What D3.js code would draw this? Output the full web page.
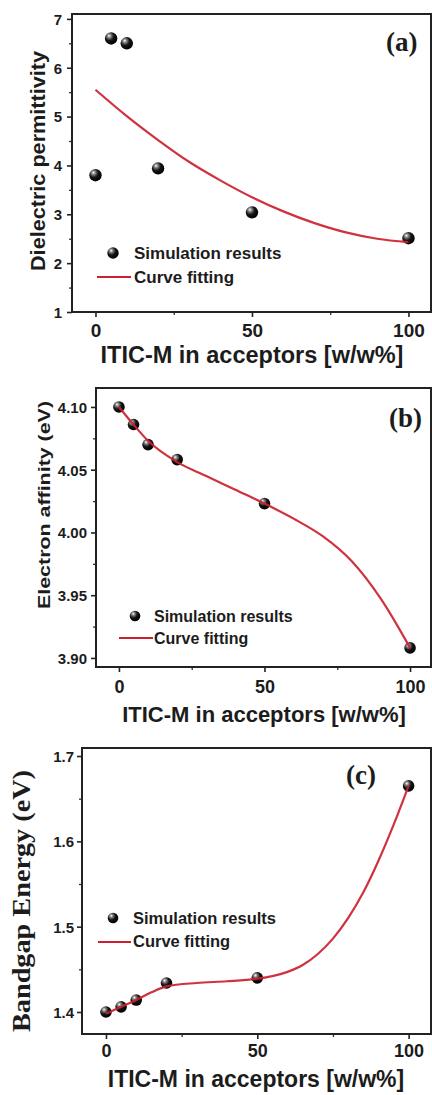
<!DOCTYPE html>
<html><head><meta charset="utf-8">
<script src="https://cdn.jsdelivr.net/npm/d3@7"></script>
<style>
html,body{margin:0;padding:0;background:#fff;}
svg{display:block;}
</style></head>
<body>
<svg id="c" width="432" height="1095"></svg>
<script>
// ---- data ----
const xVals = [0, 5, 10, 20, 50, 100];
const permittivity = [3.80, 6.60, 6.50, 3.94, 3.04, 2.51];
const affinity = [4.100, 4.086, 4.070, 4.058, 4.023, 3.908];
const bandgap = [1.400, 1.406, 1.414, 1.434, 1.440, 1.665];

const fitXa = [0, 10, 20, 30, 40, 50, 60, 70, 80, 90, 100];
const fitA  = [5.55, 5.01, 4.52, 4.07, 3.69, 3.35, 3.06, 2.82, 2.63, 2.50, 2.43];
const fitXb = [0, 5, 10, 20, 30, 40, 50, 60, 70, 80, 90, 100];
const fitB  = [4.100, 4.086, 4.073, 4.056, 4.045, 4.034, 4.023, 4.011, 3.997, 3.977, 3.947, 3.908];
const fitXc = [0, 5, 10, 15, 20, 30, 40, 50, 55, 60, 65, 70, 75, 80, 85, 90, 95, 100];
const fitC  = [1.398, 1.406, 1.414, 1.423, 1.430, 1.434, 1.436, 1.439, 1.442, 1.447, 1.455, 1.468, 1.486, 1.510, 1.540, 1.577, 1.619, 1.665];

const xTicks = [0, 50, 100];
const xMinor = [25, 75];
const yTicksA = [1, 2, 3, 4, 5, 6, 7];
const yMinorA = [1.5, 2.5, 3.5, 4.5, 5.5, 6.5];
const yTicksB = [3.90, 3.95, 4.00, 4.05, 4.10];
const yMinorB = [3.925, 3.975, 4.025, 4.075];
const yTicksC = [1.4, 1.5, 1.6, 1.7];
const yMinorC = [1.45, 1.55, 1.65];

const xTitle = "ITIC-M in acceptors [w/w%]";
const legendLabels = ["Simulation results", "Curve fitting"];

// ---- drawing ----
const svg = d3.select("#c");
const defs = svg.append("defs");
const g = defs.append("radialGradient").attr("id","ball").attr("cx","38%").attr("cy","35%").attr("r","65%").attr("fx","33%").attr("fy","28%");
g.append("stop").attr("offset","0%").attr("stop-color","#ffffff");
g.append("stop").attr("offset","22%").attr("stop-color","#8a8a8a");
g.append("stop").attr("offset","55%").attr("stop-color","#151515");
g.append("stop").attr("offset","100%").attr("stop-color","#000");

const SANS = "'Liberation Sans', Arial, sans-serif";
const SERIF = "'Liberation Serif', 'Times New Roman', serif";
const RED = "#cc1f2f";
const INK = "#1c1c1c";

function panel(cfg){
  const x = d3.scaleLinear().domain(cfg.xDom).range([cfg.left, cfg.right]);
  const y = d3.scaleLinear().domain(cfg.yDom).range([cfg.bottom, cfg.top]);
  const root = svg.append("g");

  const xm = root.append("g").attr("transform",`translate(0,${cfg.bottom})`)
    .call(d3.axisBottom(x).tickValues(xMinor).tickSize(3).tickFormat(""));
  const ym = root.append("g").attr("transform",`translate(${cfg.left},0)`)
    .call(d3.axisLeft(y).tickValues(cfg.yMinor).tickSize(3).tickFormat(""));
  [xm, ym].forEach(a => { a.select(".domain").remove(); a.selectAll("line").attr("stroke","#333").attr("stroke-width",1.3); });

  const xa = root.append("g").attr("transform",`translate(0,${cfg.bottom})`)
    .call(d3.axisBottom(x).tickValues(xTicks).tickSize(5).tickFormat(d3.format("d")));
  xa.select(".domain").remove();
  xa.selectAll("line").attr("stroke","#222").attr("stroke-width",1.6);
  xa.selectAll("text").attr("dy", null).attr("y", cfg.xLabOff)
    .attr("font-family", SANS).attr("font-weight","bold").attr("font-size", cfg.xTickSize).attr("fill", INK);

  const ya = root.append("g").attr("transform",`translate(${cfg.left},0)`)
    .call(d3.axisLeft(y).tickValues(cfg.yTicks).tickSize(5).tickFormat(cfg.yFmt));
  ya.select(".domain").remove();
  ya.selectAll("line").attr("stroke","#222").attr("stroke-width",1.6);
  ya.selectAll("text").attr("x", -cfg.yLabOff).attr("dy","0.36em")
    .attr("font-family", SANS).attr("font-weight","bold").attr("font-size", cfg.yTickSize).attr("fill", INK);

  root.append("rect").attr("x", cfg.left).attr("y", cfg.top)
    .attr("width", cfg.right - cfg.left).attr("height", cfg.bottom - cfg.top)
    .attr("fill","none").attr("stroke","#222").attr("stroke-width",2);

  const pts = xVals.map((v,i) => [v, cfg.vals[i]]);
  root.append("g").selectAll("circle").data(pts).join("circle")
    .attr("cx", d => x(d[0])).attr("cy", d => y(d[1])).attr("r", cfg.r)
    .attr("fill","url(#ball)");

  const fit = cfg.fitX.map((v,i) => [v, cfg.fit[i]]);
  root.append("path").datum(fit)
    .attr("d", d3.line().x(d => x(d[0])).y(d => y(d[1])).curve(d3.curveMonotoneX))
    .attr("fill","none").attr("stroke", RED).attr("stroke-width", 2.2).attr("opacity",0.92);

  const L = cfg.legend;
  root.append("circle").attr("cx", L.mx).attr("cy", L.my).attr("r", cfg.r - 0.5).attr("fill","url(#ball)");
  root.append("text").attr("x", L.tx).attr("y", L.t1y).text(legendLabels[0])
    .attr("font-family", SANS).attr("font-weight","bold").attr("font-size", L.size).attr("fill", INK);
  root.append("line").attr("x1", L.lx1).attr("x2", L.lx2).attr("y1", L.ly).attr("y2", L.ly)
    .attr("stroke", RED).attr("stroke-width", 2.2);
  root.append("text").attr("x", L.tx).attr("y", L.t2y).text(legendLabels[1])
    .attr("font-family", SANS).attr("font-weight","bold").attr("font-size", L.size).attr("fill", INK);

  root.append("text").attr("x", cfg.tag.x).attr("y", cfg.tag.y).text(cfg.tag.t)
    .attr("font-family", SERIF).attr("font-weight","bold").attr("font-size", cfg.tag.size).attr("fill", INK);

  root.append("text").attr("x", cfg.xt.x).attr("y", cfg.xt.y).attr("text-anchor","middle").text(xTitle)
    .attr("font-family", SANS).attr("font-weight","bold").attr("font-size", cfg.xt.size).attr("fill", INK);

  root.append("text").attr("transform", `translate(${cfg.yt.x},${cfg.yt.y}) rotate(-90)`)
    .attr("text-anchor","middle").attr("dy","0.35em").text(cfg.yt.t)
    .attr("textLength", cfg.yt.len).attr("lengthAdjust","spacingAndGlyphs")
    .attr("font-family", cfg.yt.font).attr("font-weight","bold").attr("font-size", cfg.yt.size).attr("fill", INK);
}

panel({
  xDom:[-7.5, 107.2], left:72, right:431,
  yDom:[1, 7.1], top:14, bottom:312,
  yTicks:yTicksA, yMinor:yMinorA, yFmt:d3.format("d"),
  vals:permittivity, fitX:fitXa, fit:fitA, r:6.2,
  xLabOff:25, xTickSize:19, yLabOff:10, yTickSize:15,
  legend:{mx:113, my:253, tx:134, t1y:259, t2y:283, lx1:97, lx2:131, ly:277, size:17},
  tag:{x:386, y:51, t:"(a)", size:27},
  xt:{x:252, y:363, size:23.5},
  yt:{x:38, y:161, t:"Dielectric permittivity", font:SANS, size:20, len:220}
});

panel({
  xDom:[-7.88, 107.2], left:96, right:431,
  yDom:[3.8928, 4.1151], top:388, bottom:667,
  yTicks:yTicksB, yMinor:yMinorB, yFmt:d3.format(".2f"),
  vals:affinity, fitX:fitXb, fit:fitB, r:5.8,
  xLabOff:26, xTickSize:18, yLabOff:9, yTickSize:15,
  legend:{mx:135, my:616, tx:154, t1y:622, t2y:644, lx1:119, lx2:153, ly:638, size:16},
  tag:{x:389, y:427, t:"(b)", size:27},
  xt:{x:264, y:722, size:22},
  yt:{x:44, y:505, t:"Electron affinity  (eV)", font:SANS, size:16, len:208}
});

panel({
  xDom:[-7.92, 107.4], left:82, right:431,
  yDom:[1.3742, 1.7094], top:748, bottom:1034,
  yTicks:yTicksC, yMinor:yMinorC, yFmt:d3.format(".1f"),
  vals:bandgap, fitX:fitXc, fit:fitC, r:5.8,
  xLabOff:23, xTickSize:18, yLabOff:8, yTickSize:15,
  legend:{mx:113, my:918, tx:133, t1y:924, t2y:947, lx1:98, lx2:131, ly:942, size:16.5},
  tag:{x:346, y:784, t:"(c)", size:27},
  xt:{x:256, y:1087, size:23},
  yt:{x:21, y:901, t:"Bandgap Energy (eV)", font:SERIF, size:26, len:262}
});
</script>
</body></html>
